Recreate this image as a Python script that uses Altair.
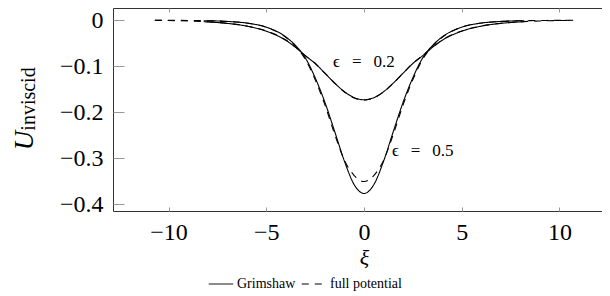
import altair as alt
import pandas as pd

# --- values ---
xi_grimshaw = [-8.2, -7, -6, -5, -4, -3.5, -3, -2.5, -2, -1.5, -1, -0.5, 0,
               0.5, 1, 1.5, 2, 2.5, 3, 3.5, 4, 5, 6, 7, 8.2]
grimshaw_02 = [-0.0031, -0.0067, -0.0127, -0.0237, -0.0435, -0.0590, -0.0770, -0.0940,
               -0.1151, -0.1367, -0.1555, -0.1684, -0.1730,
               -0.1684, -0.1555, -0.1367, -0.1151, -0.0940, -0.0770, -0.0590, -0.0435,
               -0.0237, -0.0127, -0.0067, -0.0031]
grimshaw_05 = [-0.0008, -0.0024, -0.0060, -0.0149, -0.0362, -0.0550, -0.0820, -0.1249,
               -0.1785, -0.2420, -0.3070, -0.3580, -0.3770,
               -0.3580, -0.3070, -0.2420, -0.1785, -0.1249, -0.0820, -0.0550, -0.0362,
               -0.0149, -0.0060, -0.0024, -0.0008]

xi_full = [-10.7, -9, -8, -7, -6, -5, -4, -3.5, -3, -2.5, -2, -1.5, -1, -0.5, 0,
           0.5, 1, 1.5, 2, 2.5, 3, 3.5, 4, 5, 6, 7, 8, 9, 10.7]
full_02 = [0.0, -0.0015, -0.0032, -0.0065, -0.0123, -0.0232, -0.0428, -0.0585, -0.0768,
           -0.0935, -0.1152, -0.1370, -0.1560, -0.1692, -0.1740,
           -0.1692, -0.1560, -0.1370, -0.1152, -0.0935, -0.0768, -0.0585, -0.0428,
           -0.0232, -0.0123, -0.0065, -0.0032, -0.0015, 0.0]
full_05 = [0.0, -0.0004, -0.0010, -0.0025, -0.0060, -0.0150, -0.0370, -0.0565, -0.0850,
           -0.1290, -0.1840, -0.2480, -0.3050, -0.3380, -0.3510,
           -0.3380, -0.3050, -0.2480, -0.1840, -0.1290, -0.0850, -0.0565, -0.0370,
           -0.0150, -0.0060, -0.0025, -0.0010, -0.0004, 0.0]

models = ["Grimshaw", "full potential"]
x_ticks = [-10, -5, 0, 5, 10]
y_ticks = [0, -0.1, -0.2, -0.3, -0.4]

label_text = ["\u03f5\u2002\u2009=\u2002\u20090.2", "\u03f5\u2002\u2009=\u2002\u20090.5"]
label_xi = [-1.58, 1.43]
label_u = [-0.0907, -0.284]

x_domain = [-12.84, 12.84]
y_domain = [-0.4152, 0.0268]

rows = []
for xs_, ys_, m, e in [(xi_grimshaw, grimshaw_02, models[0], "0.2"),
                       (xi_grimshaw, grimshaw_05, models[0], "0.5"),
                       (xi_full, full_02, models[1], "0.2"),
                       (xi_full, full_05, models[1], "0.5")]:
    for a, b in zip(xs_, ys_):
        rows.append({"xi": a, "U": b, "model": m, "eps": e, "key": m + e})
df = pd.DataFrame(rows)
labels = pd.DataFrame({"xi": label_xi, "U": label_u, "text": label_text})

FONT = "Liberation Serif, DejaVu Serif, serif"
xs = alt.Scale(domain=x_domain, nice=False, zero=False)
ys = alt.Scale(domain=y_domain, nice=False, zero=False)

lines = alt.Chart(df).mark_line(color="black", strokeWidth=1.1, interpolate="monotone").encode(
    x=alt.X("xi:Q", scale=xs, axis=alt.Axis(
        orient="bottom", values=x_ticks, title="\u03be", titleFont=FONT, titleFontStyle="italic",
        titleFontSize=22, titleFontWeight="normal", titleColor="black",
        titleBaseline="alphabetic", titleY=57, titleX=251,
        domain=False, grid=False, offset=-4, tickSize=4, tickColor="#999",
        labelFont=FONT, labelFontSize=24, labelColor="black", labelPadding=9,
        labelExpr="datum.value == 0 ? '0' : replace(format(datum.value, 'd'), '-', '\u2212')")),
    y=alt.Y("U:Q", scale=ys, axis=alt.Axis(
        orient="left", values=y_ticks, title="U", titleFont=FONT, titleFontStyle="italic",
        titleFontSize=27, titleFontWeight="normal", titleColor="black", titleAngle=270,
        titleBaseline="alphabetic", titleAlign="center", titleX=-92, titleY=132,
        domain=False, grid=False, offset=-11, tickSize=11, tickColor="#999",
        labelFont=FONT, labelFontSize=24, labelColor="black", labelPadding=10,
        labelExpr="datum.value == 0 ? '0' : replace(format(datum.value, '.1f'), '-', '\u2212')")),
    strokeDash=alt.StrokeDash("model:N", scale=alt.Scale(domain=models, range=[[1, 0], [7, 6]]),
                              legend=alt.Legend(title=None, orient="none", legendX=95, legendY=263,
                                                direction="horizontal", symbolType="stroke",
                                                symbolSize=600, symbolStrokeWidth=1,
                                                symbolStrokeColor="black", labelFont=FONT,
                                                labelFontSize=14, labelColor="black",
                                                labelOffset=3, columnPadding=3)),
    detail="key:N",
)

annot = alt.Chart(labels).mark_text(font=FONT, fontSize=17, color="black", align="left",
                                    baseline="middle").encode(
    x=alt.X("xi:Q", scale=xs, axis=alt.Axis(orient="top", values=x_ticks, labels=False, title=None,
                                            domain=False, grid=False, offset=-4, tickSize=4,
                                            tickColor="#999")),
    y=alt.Y("U:Q", scale=ys, axis=alt.Axis(orient="right", values=y_ticks, labels=False, title=None,
                                           domain=False, grid=False, offset=-11, tickSize=11,
                                           tickColor="#999")),
    text="text:N",
)

sub = alt.Chart(pd.DataFrame({"t": ["inviscid"]})).mark_text(
    font=FONT, fontSize=20, color="black", angle=270, align="center", baseline="alphabetic"
).encode(x=alt.value(-78.5), y=alt.value(91), text="t:N")

chart = alt.layer(lines, annot, sub).resolve_axis(x="independent", y="independent").properties(
    width=502, height=203,
    autosize=alt.AutoSizeParams(type="none"),
    padding={"left": 105, "top": 0, "right": -13, "bottom": 80},
).configure_view(stroke="#333", strokeWidth=1)

chart.save("out.html", embed_options={"renderer": "svg", "actions": False})
